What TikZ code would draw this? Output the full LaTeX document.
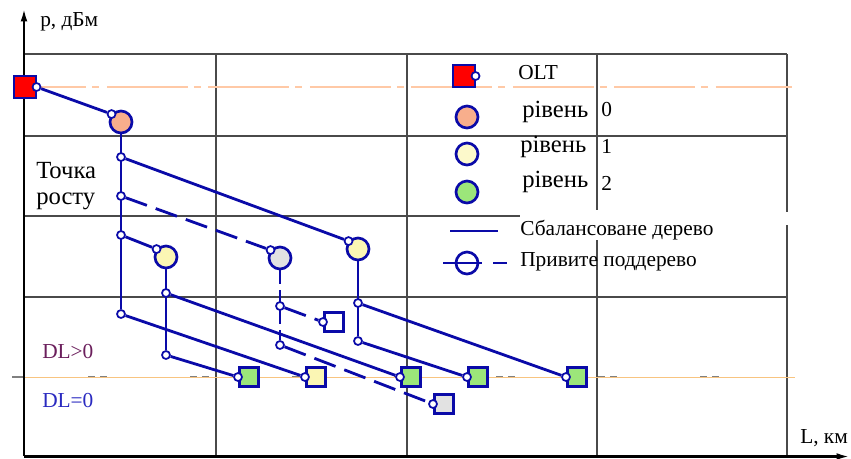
\documentclass[tikz,border=0pt]{standalone}
\usepackage{fontspec}
\setmainfont{Liberation Serif}
\usepackage{xcolor}
\usetikzlibrary{arrows.meta, positioning, backgrounds}
\definecolor{TreeBlue}{HTML}{0A0AA8}
\definecolor{OltRed}{HTML}{FF0000}
\definecolor{LevelZero}{HTML}{F8AE8C}
\definecolor{LevelOne}{HTML}{FBF6B4}
\definecolor{LevelTwo}{HTML}{9CE67A}
\definecolor{GraftGray}{HTML}{E2E2E2}
\definecolor{GridGray}{HTML}{4A4A4A}
\definecolor{GuidePeach}{HTML}{FFC9A6}
\definecolor{GuideOrange}{HTML}{F8C480}
\definecolor{DLPlus}{HTML}{6B1F5C}
\definecolor{DLZero}{HTML}{2A2AC0}
\pgfdeclarelayer{gridlayer}
\pgfdeclarelayer{wirelayer}
\pgfsetlayers{gridlayer,wirelayer,main}
\tikzset{
    % grid and axes
    gridline/.style={draw=GridGray, line width=1.1pt},
    axisline/.style={black, line width=1.8pt, -{Latex[length=10pt,width=5pt]}},
    % tree elements
    oltbox/.style={
        rectangle,
        draw=TreeBlue,
        fill=OltRed,
        line width=1.3pt,
        minimum size=16pt,
        inner sep=0pt
    },
    levelzero/.style={
        circle,
        draw=TreeBlue,
        fill=LevelZero,
        line width=2pt,
        minimum size=16.5pt,
        inner sep=0pt
    },
    levelone/.style={levelzero, fill=LevelOne},
    leveltwo/.style={levelzero, fill=LevelTwo},
    graftnode/.style={levelzero, fill=GraftGray},
    onubox/.style={
        rectangle,
        draw=TreeBlue,
        fill=LevelTwo,
        line width=2pt,
        minimum size=14.5pt,
        inner sep=0pt
    },
    port/.style={
        circle,
        draw=TreeBlue,
        fill=white,
        line width=1.3pt,
        minimum size=6pt,
        inner sep=0pt
    },
    % connectors
    branch/.style={draw=TreeBlue, line width=2.1pt},
    graft/.style={branch, dash pattern=on 17pt off 7pt},
    legendtext/.style={anchor=west, inner sep=0pt}
}
\begin{document}
\begin{tikzpicture}[x=0.75pt, y=-0.75pt, font=\fontsize{16}{19}\selectfont]
\useasboundingbox (0,0) rectangle (851,458);

% Grid
\begin{pgfonlayer}{gridlayer}
\foreach \gy in {54,136,297}
    \draw[gridline] (24,\gy) -- (787,\gy);
\draw[gridline] (24,216) -- (520,216);
\foreach \gx in {216,407}
    \draw[gridline] (\gx,54) -- (\gx,456);
\draw[gridline] (597,54) -- (597,210);
\draw[gridline] (597,240) -- (597,456);
\draw[gridline] (787,54) -- (787,212);
\draw[gridline] (787,225) -- (787,456);
% guide lines
\draw[GuidePeach, line width=1.6pt, dash pattern=on 60.75pt off 4.5pt on 5.25pt off 5.6pt, dash phase=13.9pt] (24,87) -- (792,87);
\draw[GridGray!70, line width=1.6pt] (12,377) -- (24,377);
\draw[GridGray!70, line width=1.6pt, dash pattern=on 5.25pt off 3.75pt on 5.25pt off 62.25pt] (88,377) -- (795,377);
\draw[GuideOrange, line width=0.7pt] (24,377) -- (795,377);
% axes
\draw[axisline] (24,456) -- (24,8);
\draw[axisline] (24,456.5) -- (850,456.5);
\end{pgfonlayer}

% Axis labels
\node[legendtext] (ylbl) at (40,22) {p, дБм};
\node[legendtext] (xlbl) at (800,438) {L, км};
\node[legendtext, align=left, font=\fontsize{18.5}{19}\selectfont] (growlbl) at (36,186) {Точка\\росту};
\node[legendtext, DLPlus] (dlplus) at (42,352) {DL>0};
\node[legendtext, DLZero] (dlzero) at (42,401) {DL=0};

% OLT and level 0
\node[oltbox] (olt) at (25,87) {};
\node[levelzero] (lz) at (121,122) {};

% level 1 and grafted nodes
\node[levelone] (la) at (358,249) {};
\node[levelone] (lb) at (166,257) {};
\node[graftnode] (lg) at (280,258) {};

% ONUs
\node[onubox] (sa) at (249,377) {};
\node[onubox, fill=LevelOne] (sb) at (316,377) {};
\node[onubox] (sc) at (411,377) {};
\node[onubox] (sd) at (478,377) {};
\node[onubox] (se) at (577,377) {};
\node[onubox, fill=white] (qa) at (334,322) {};
\node[onubox, fill=GraftGray] (qb) at (444,404) {};

% Ports
\node[port] (oltout) at (olt.east) {};
\node[port] (lzin) at (lz.140) {};
\node[port] (lain) at (la.140) {};
\node[port] (lbin) at (lb.140) {};
\node[port] (lgin) at (lg.140) {};
\foreach \nd in {sa,sb,sc,sd,se,qa,qb}
    \node[port] (\nd-in) at (\nd.west) {};
% taps on the trunks
\node[port] (ta) at (121,157) {};
\node[port] (tb) at (121,196) {};
\node[port] (tc) at (121,235) {};
\node[port] (td) at (121,314) {};
\node[port] (te) at (166,293) {};
\node[port] (tf) at (166,355) {};
\node[port] (tg) at (358,303) {};
\node[port] (th) at (358,341) {};
\node[port] (ti) at (280,306) {};
\node[port] (tj) at (280,345) {};

% Connectors
\begin{pgfonlayer}{wirelayer}
\draw[branch] (oltout) -- (lzin);
\draw[branch] (lz) -- (td);
\draw[branch] (ta) -- (lain);
\draw[graft] (tb) -- (lgin);
\draw[branch] (tc) -- (lbin);
\draw[branch] (td) -- (sb-in);
\draw[branch] (lb) -- (tf);
\draw[branch] (te) -- (sc-in);
\draw[branch] (tf) -- (sa-in);
\draw[branch] (la) -- (th);
\draw[branch] (tg) -- (se-in);
\draw[branch] (th) -- (sd-in);
\draw[graft, dash pattern=on 10pt off 5pt] (lg) -- (tj);
\draw[graft] (ti) -- (qa-in);
\draw[graft] (tj) -- (qb-in);
\end{pgfonlayer}

% Legend
\node[oltbox] (lgolt) at (464,76) {};
\node[port] (lgoltout) at (lgolt.east) {};
\node[legendtext] (lgolttxt) at (518,73) {OLT};
\node[levelzero] (lgzero) at (467,117) {};
\node[levelone, fill=LevelOne!70] (lgone) at (467,154) {};
\node[leveltwo] (lgtwo) at (467,192) {};
\node[legendtext, font=\fontsize{18.5}{20}\selectfont] (lgzerotxt) at (522,112) {рівень};
\node[legendtext, font=\fontsize{18.5}{20}\selectfont] (lgonetxt) at (520,147) {рівень};
\node[legendtext, font=\fontsize{18.5}{20}\selectfont] (lgtwotxt) at (522,182) {рівень};
\node[legendtext] (lgzeronum) at (601,110) {0};
\node[legendtext] (lgonenum) at (601,146) {1};
\node[legendtext] (lgtwonum) at (601,183) {2};
\draw[branch] (450,231) -- (498,231);
\node[legendtext] (lgbaltxt) at (520,230) {Сбалансоване дерево};
\draw[branch] (443,263) -- (482,263);
\draw[branch] (493,263) -- (507,263);
\node[circle, draw=TreeBlue, line width=2pt, minimum size=16.5pt, inner sep=0pt] (lggraft) at (467,263) {};
\node[legendtext] (lggrafttxt) at (520,262) {Привите поддерево};
\end{tikzpicture}
\end{document}
